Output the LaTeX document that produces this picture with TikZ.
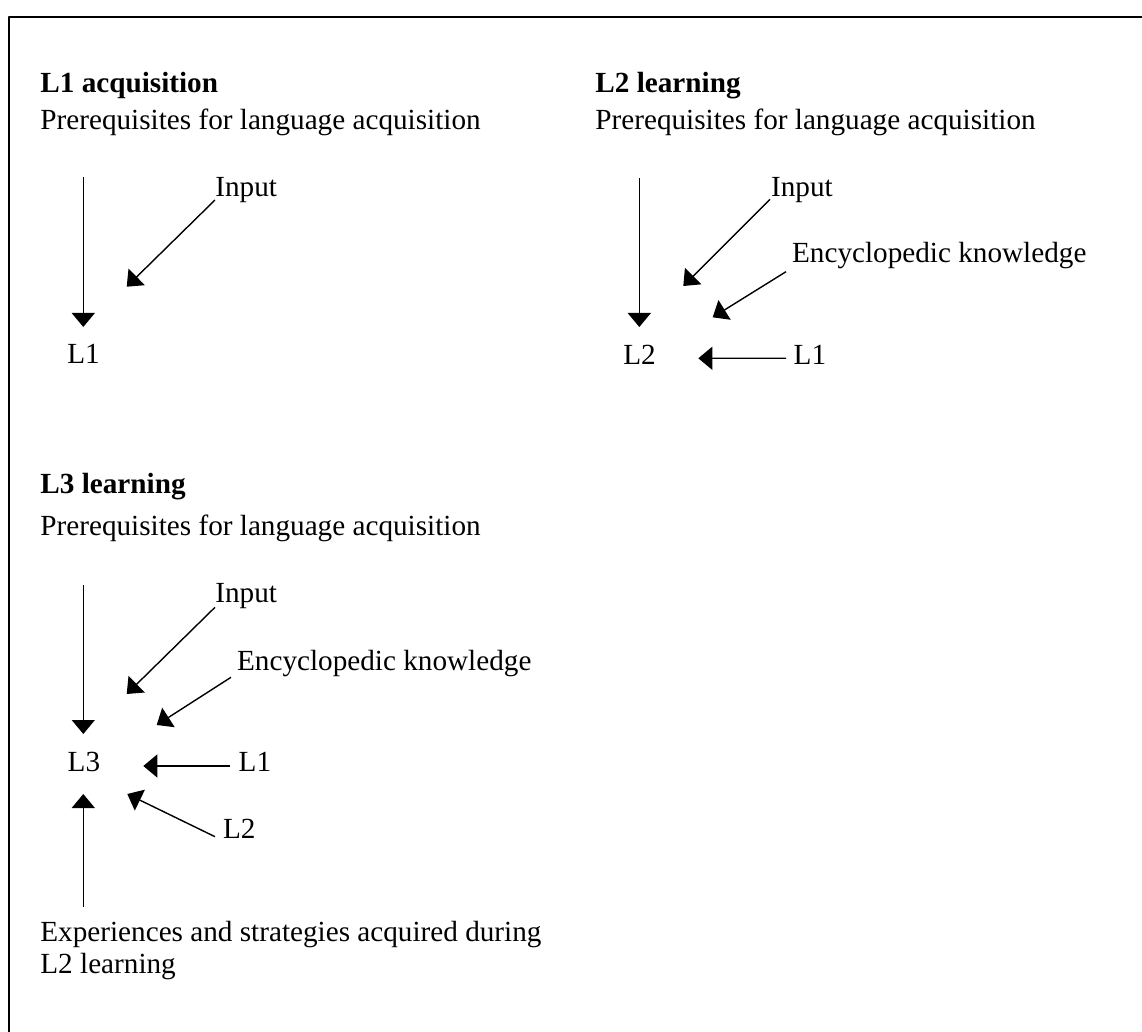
\documentclass[tikz,border=0pt]{standalone}
\usepackage{fontspec}
\setmainfont{Liberation Serif}
\usetikzlibrary{arrows.meta}
\begin{document}
\begin{tikzpicture}[x=0.5pt,y=-0.5pt,line join=bevel,
  >={Triangle[width=11.5pt,length=7pt]},
  lbl/.style={anchor=base west,inner sep=0pt,font=\fontsize{14.6pt}{15.8pt}\selectfont},
  head/.style={lbl,font=\fontsize{14.6pt}{15.8pt}\selectfont\bfseries},
  arr/.style={->,line width=0.7pt},
  frame/.style={line width=1pt}]
  \useasboundingbox (0,0) rectangle (1142,1032);
%%
  % Frame
  \draw [frame] (9,1032) -- (9,17) -- (1142,17);
%%
  % Block: L1 acquisition
  \node [head] (titleA) at (40,93) {L1 acquisition};
  \node [lbl] (preA) at (40,130) {Prerequisites for language acquisition};
  % Node: L1
  \node [lbl] (l1A) at (67,364) {L1};
  % Node: Input
  \node [lbl] (inA) at (215,197) {Input};
  \coordinate (topA) at (83.3,177);
  \coordinate (tipA) at (83.3,327);
  \coordinate (tipInA) at (126.7,286.7);
  % Edge: top -> L1
  \draw [arr] (topA) -- (tipA);
  % Edge: Input -> L1
  \draw [arr] ([shift={(0,3)}]inA.base west) -- (tipInA);
%%
  % Block: L2 learning
  \node [head] (titleB) at (595,93) {L2 learning};
  \node [lbl] (preB) at (595,129.3) {Prerequisites for language acquisition};
  % Node: L2
  \node [lbl] (l2B) at (623,365) {L2};
  % Node: Input
  \node [lbl] (inB) at (770.7,197) {Input};
  % Node: Encyclopedic knowledge
  \node [lbl] (encB) at (791.7,263) {Encyclopedic knowledge};
  % Node: L1
  \node [lbl] (l1B) at (793.3,365) {L1};
  \coordinate (topB) at (639.3,178);
  \coordinate (tipB) at (639.3,327);
  \coordinate (tipInB) at (683.3,286);
  \coordinate (tipEncB) at (712.7,317.3);
  \coordinate (tipL1B) at (698.3,358.3);
  % Edge: top -> L2
  \draw [arr] (topB) -- (tipB);
  % Edge: Input -> L2
  \draw [arr] ([shift={(-0.7,2.3)}]inB.base west) -- (tipInB);
  % Edge: Encyclopedic knowledge -> L2
  \draw [arr] ([shift={(-5.7,8.7)}]encB.base west) -- (tipEncB);
  % Edge: L1 -> L2
  \draw [arr] ([shift={(-7.3,-6.7)}]l1B.base west) -- (tipL1B);
%%
  % Block: L3 learning
  \node [head] (titleC) at (40,493.3) {L3 learning};
  \node [lbl] (preC) at (40,536) {Prerequisites for language acquisition};
  % Node: L3
  \node [lbl] (l3C) at (67.3,771.7) {L3};
  % Node: Input
  \node [lbl] (inC) at (215,603) {Input};
  % Node: Encyclopedic knowledge
  \node [lbl] (encC) at (236.7,670) {Encyclopedic knowledge};
  % Node: L1
  \node [lbl] (l1C) at (238.3,771.7) {L1};
  % Node: L2
  \node [lbl] (l2C) at (222.7,838) {L2};
  % Node: Experiences (base is the last line)
  \node [lbl,align=left] (expC) at (40,973.3) {Experiences and strategies acquired during\\L2 learning};
  \coordinate (topC) at (83.3,585);
  \coordinate (tipC) at (83.3,734);
  \coordinate (botC) at (83.3,907);
  \coordinate (tipUpC) at (83.3,794);
  \coordinate (tipInC) at (126.7,694);
  \coordinate (tipEncC) at (156.7,725);
  \coordinate (tipL1C) at (143.3,766);
  \coordinate (tipL2C) at (127.3,794);
  % Edge: top -> L3
  \draw [arr] (topC) -- (tipC);
  % Edge: Input -> L3
  \draw [arr] ([shift={(0,4.3)}]inC.base west) -- (tipInC);
  % Edge: Encyclopedic knowledge -> L3
  \draw [arr] ([shift={(-5.7,7.3)}]encC.base west) -- (tipEncC);
  % Edge: L1 -> L3
  \draw [arr] ([shift={(-8.3,-5.7)}]l1C.base west) -- (tipL1C);
  % Edge: L2 -> L3
  \draw [arr] ([shift={(-7.7,-1.3)}]l2C.base west) -- (tipL2C);
  % Edge: Experiences -> L3
  \draw [arr] (botC) -- (tipUpC);
%
\end{tikzpicture}
\end{document}
